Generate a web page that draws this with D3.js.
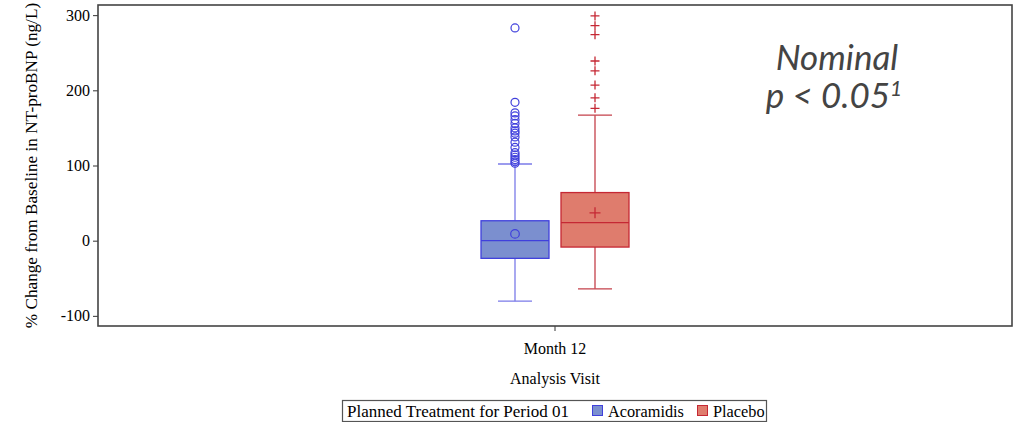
<!DOCTYPE html>
<html>
<head>
<meta charset="utf-8">
<script src="https://cdn.jsdelivr.net/npm/d3@7"></script>
<style>
  body { margin: 0; background: #fff; }
  svg text { font-family: "Liberation Serif", "DejaVu Serif", serif; fill: #000; }
</style>
</head>
<body>
<svg id="chart" width="1015" height="422"></svg>
<script>
// data
let visits = ["Month 12"]
let treatments = ["Acoramidis", "Placebo"]
let q1 = [-23.5, -8.5]
let medians = [0, 24]
let q3 = [26.5, 64]
let means = [9, 37]
let whiskLow = [-80.5, -64]
let whiskHigh = [102, 167]
let outliersAcoramidis = [283, 184, 170, 166, 161, 156, 150, 146, 143, 138, 131, 124, 117, 114, 111, 108, 105, 103]
let outliersPlacebo = [299, 286, 274, 239, 226, 207, 190, 176]
let yTicks = [-100, 0, 100, 200, 300]

let fills = ["#7b8fcf", "#df7c6d"]
let strokes = ["#4040dc", "#c52834"]
let whiskColors = ["#7a7ae8", "#c4404a"]

let serif = "'Liberation Serif', 'DejaVu Serif', serif"

let svg = d3.select("#chart")

let margin = {top: 5, right: 3, bottom: 96, left: 98},
    width = 1015 - margin.left - margin.right,
    height = 422 - margin.top - margin.bottom

let g = svg.append("g")
  .attr("transform", "translate(" + margin.left + "," + margin.top + ")")

let y = d3.scaleLinear()
  .domain([-113.5, 313.5])
  .range([height, 0])

let x = d3.scaleBand()
  .domain(visits)
  .range([0, width])

// the two treatments side by side inside the visit band
let inner = d3.scaleBand()
  .domain(treatments)
  .range([-80, 80])

let boxW = inner.bandwidth() * 0.85
let capW = inner.bandwidth() * 0.425

// axes
let yAxis = g.append("g")
  .call(d3.axisLeft(y).tickValues(yTicks).tickSize(5).tickPadding(3).tickFormat(d => String(d)))
yAxis.select(".domain").remove()
yAxis.selectAll("text").style("font-family", serif).style("font-size", "16px")
yAxis.selectAll("line").attr("stroke", "#333")

let xAxis = g.append("g")
  .attr("transform", "translate(0," + height + ")")
  .call(d3.axisBottom(x).tickSize(5).tickPadding(12))
xAxis.select(".domain").remove()
xAxis.selectAll("text").style("font-family", serif).style("font-size", "16px")
xAxis.selectAll("line").attr("stroke", "#333")

// frame
g.append("rect")
  .attr("x", 0).attr("y", 0)
  .attr("width", width).attr("height", height)
  .attr("fill", "none")
  .attr("stroke", "#444")
  .attr("stroke-width", 1.6)

// boxes
treatments.forEach((t, i) => {
  let cx = x(visits[0]) + x.bandwidth() / 2 + inner(t) + inner.bandwidth() / 2
  let bg = g.append("g")

  // whiskers
  bg.append("line")
    .attr("x1", cx).attr("x2", cx)
    .attr("y1", y(q3[i])).attr("y2", y(whiskHigh[i]))
    .attr("stroke", whiskColors[i]).attr("stroke-width", 1.3)
  bg.append("line")
    .attr("x1", cx).attr("x2", cx)
    .attr("y1", y(q1[i])).attr("y2", y(whiskLow[i]))
    .attr("stroke", whiskColors[i]).attr("stroke-width", 1.3)
  bg.selectAll(".cap")
    .data([whiskLow[i], whiskHigh[i]])
    .enter().append("line")
    .attr("x1", cx - capW / 2).attr("x2", cx + capW / 2)
    .attr("y1", d => y(d)).attr("y2", d => y(d))
    .attr("stroke", whiskColors[i]).attr("stroke-width", 1.3)

  bg.append("rect")
    .attr("x", cx - boxW / 2)
    .attr("y", y(q3[i]))
    .attr("width", boxW)
    .attr("height", y(q1[i]) - y(q3[i]))
    .attr("fill", fills[i])
    .attr("stroke", strokes[i])
    .attr("stroke-width", 1.3)

  bg.append("line")
    .attr("x1", cx - boxW / 2).attr("x2", cx + boxW / 2)
    .attr("y1", y(medians[i])).attr("y2", y(medians[i]))
    .attr("stroke", strokes[i]).attr("stroke-width", 1.3)

  let pts = i == 0 ? outliersAcoramidis : outliersPlacebo
  if (i == 0) {
    bg.append("circle")
      .attr("cx", cx).attr("cy", y(means[i])).attr("r", 4.3)
      .attr("fill", "none").attr("stroke", strokes[i]).attr("stroke-width", 1.2)
    bg.selectAll(".out")
      .data(pts)
      .enter().append("circle")
      .attr("cx", cx).attr("cy", d => y(d)).attr("r", 4)
      .attr("fill", "none").attr("stroke", strokes[i]).attr("stroke-width", 1.2)
  } else {
    let cross = (sel, s) => sel.append("path")
      .attr("d", "M" + (-s) + ",0H" + s + "M0," + (-s) + "V" + s)
      .attr("stroke", strokes[i]).attr("stroke-width", 1.3).attr("fill", "none")
    cross(bg.append("g").attr("transform", "translate(" + cx + "," + y(means[i]) + ")"), 5.5)
    pts.forEach(d => {
      cross(bg.append("g").attr("transform", "translate(" + cx + "," + y(d) + ")"), 4.5)
    })
  }
})

// axis titles
svg.append("text")
  .attr("transform", "translate(37," + (margin.top + height / 2) + ") rotate(-90)")
  .attr("text-anchor", "middle")
  .style("font-family", serif)
  .style("font-size", "17.2px")
  .text("% Change from Baseline in NT-proBNP (ng/L)")

svg.append("text")
  .attr("x", margin.left + width / 2)
  .attr("y", 384)
  .attr("text-anchor", "middle")
  .style("font-family", serif)
  .style("font-size", "16px")
  .text("Analysis Visit")

// annotation
let note = svg.append("text")
  .attr("text-anchor", "middle")
  .style("font-family", "Lato, 'Open Sans', sans-serif")
  .style("font-style", "italic")
  .style("font-size", "35px")
  .style("fill", "#444")
note.append("tspan").attr("x", 837).attr("y", 70).text("Nominal")
note.append("tspan").attr("x", 834).attr("y", 108).text("p < 0.05")
  .append("tspan").attr("dy", -12).style("font-size", "21px").text("1")

// legend
let leg = svg.append("g")
leg.append("rect")
  .attr("x", 342.5).attr("y", 400.5)
  .attr("width", 424).attr("height", 21)
  .attr("fill", "#fff").attr("stroke", "#555").attr("stroke-width", 1.2)
leg.append("text")
  .attr("x", 347).attr("y", 416.5)
  .style("font-family", serif)
  .style("font-size", "17px")
  .text("Planned Treatment for Period 01")
let legX = [592, 697]
treatments.forEach((t, i) => {
  leg.append("rect")
    .attr("x", legX[i] + 0.5).attr("y", 405.5)
    .attr("width", 10).attr("height", 10)
    .attr("fill", fills[i]).attr("stroke", strokes[i]).attr("stroke-width", 1)
  leg.append("text")
    .attr("x", legX[i] + 16).attr("y", 416.5)
    .style("font-family", serif)
    .style("font-size", "16.3px")
    .text(t)
})
</script>
</body>
</html>
